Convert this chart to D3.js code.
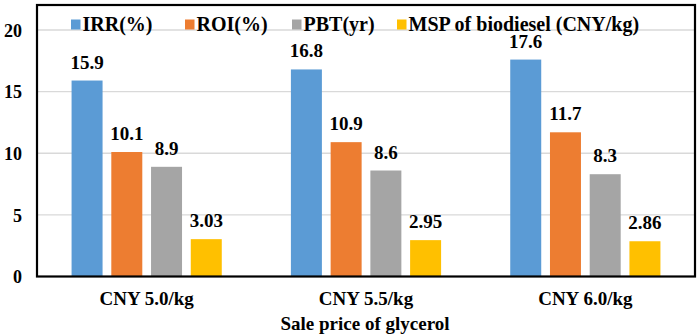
<!DOCTYPE html>
<html><head><meta charset="utf-8">
<script src="https://cdn.jsdelivr.net/npm/d3@7/dist/d3.min.js"></script>
<style>body{margin:0;background:#fff}svg{display:block}</style>
</head><body>
<script>
const categories = ["CNY 5.0/kg", "CNY 5.5/kg", "CNY 6.0/kg"];
const seriesNames = ["IRR(%)", "ROI(%)", "PBT(yr)", "MSP of biodiesel (CNY/kg)"];
const irr = [15.9, 16.8, 17.6];
const roi = [10.1, 10.9, 11.7];
const pbt = [8.9, 8.6, 8.3];
const msp = [3.03, 2.95, 2.86];
const mspLabels = ["3.03", "2.95", "2.86"];
const yTicks = [0, 5, 10, 15, 20];
const colors = ["#5B9BD5", "#ED7D31", "#A5A5A5", "#FFC000"];
const xTitle = "Sale price of glycerol";

const FONT = '"Liberation Serif", "Times New Roman", serif';
const seriesValues = [irr, roi, pbt, msp];
const W = 699, H = 336;
const L = 37, R = 695, T = 5, B = 276.5;

const svg = d3.select("body").append("svg").attr("width", W).attr("height", H);

const y = d3.scaleLinear().domain([0, 20]).range([B, 30]);
const x0 = d3.scaleBand().domain(categories).range([L, R]).padding(0);
const x1 = d3.scaleBand().domain(seriesNames).range([0, x0.bandwidth()]).paddingInner(0.22).paddingOuter(0.87);

function styleText(sel, size) {
  sel.style("font-family", FONT).style("font-weight", "bold")
     .style("font-size", size + "px").attr("fill", "#000");
}

// gridlines
svg.append("g").selectAll("line").data(yTicks.filter(d => d > 0)).join("line")
  .attr("x1", L).attr("x2", R).attr("y1", d => y(d)).attr("y2", d => y(d))
  .attr("stroke", "#d9d9d9").attr("stroke-width", 1.3);

// y axis labels
const yAxis = d3.axisLeft(y).tickValues(yTicks).tickSize(0).tickPadding(15).tickFormat(d3.format("d"));
const ya = svg.append("g").attr("transform", `translate(${L},0)`).call(yAxis);
ya.select(".domain").remove();
ya.attr("font-family", null).attr("font-size", null);
styleText(ya.selectAll("text"), 18);
ya.selectAll("text").attr("dy", "0.35em");

// bars
const groups = svg.append("g").selectAll("g").data(categories).join("g")
  .attr("transform", d => `translate(${x0(d)},0)`);
groups.each(function(cat, ci) {
  const g = d3.select(this);
  const data = seriesNames.map((s, si) => ({s, si, v: seriesValues[si][ci],
    label: si === 3 ? mspLabels[ci] : d3.format(".1f")(seriesValues[si][ci])}));
  g.selectAll("rect").data(data).join("rect")
    .attr("x", d => x1(d.s)).attr("width", x1.bandwidth())
    .attr("y", d => y(d.v)).attr("height", d => B - y(d.v))
    .attr("fill", d => colors[d.si]);
  const t = g.selectAll("text").data(data).join("text")
    .attr("x", d => x1(d.s) + x1.bandwidth() / 2)
    .attr("y", d => y(d.v) - 12)
    .attr("text-anchor", "middle")
    .text(d => d.label);
  styleText(t, 19);
});

// x axis labels
const xAxis = d3.axisBottom(x0).tickSize(0).tickPadding(15);
const xa = svg.append("g").attr("transform", `translate(0,${B})`).call(xAxis);
xa.select(".domain").remove();
xa.attr("font-family", null).attr("font-size", null);
styleText(xa.selectAll("text"), 19);

styleText(svg.append("text").attr("x", (L + R) / 2 - 1).attr("y", 330).attr("text-anchor", "middle")
  .text(xTitle), 19);

// frame
svg.append("rect").attr("x", L).attr("y", T).attr("width", R - L).attr("height", B - T)
  .attr("fill", "none").attr("stroke", "#000").attr("stroke-width", 2.2);

// legend
const legendX = [71, 185, 292, 397];
const lg = svg.append("g").selectAll("g").data(seriesNames).join("g")
  .attr("transform", (d, i) => `translate(${legendX[i]},24.5)`);
lg.append("rect").attr("x", 0).attr("y", -5).attr("width", 9.5).attr("height", 10).attr("fill", (d, i) => colors[i]);
styleText(lg.append("text").attr("x", 11.5).attr("y", 0).attr("dy", "0.33em").text(d => d), 20);
</script>
</body></html>
